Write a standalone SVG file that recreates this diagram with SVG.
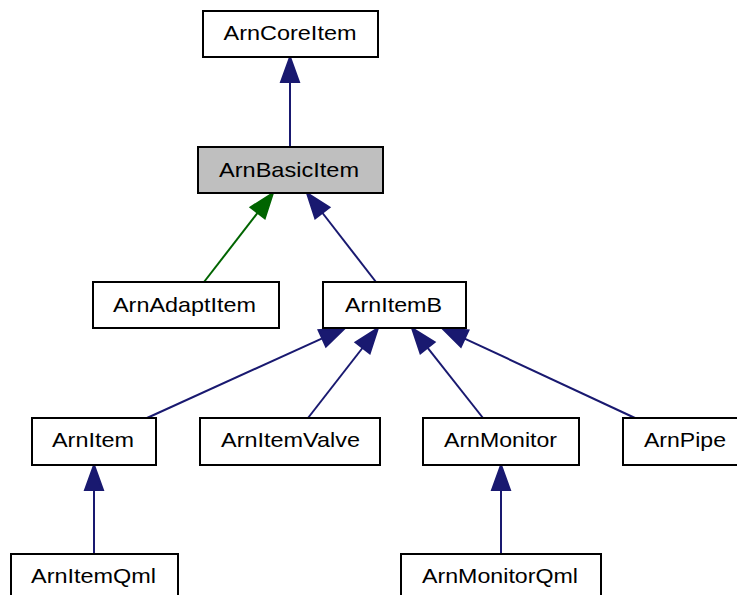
<svg xmlns="http://www.w3.org/2000/svg" width="737" height="595" viewBox="0 0 737 595">
<style>
.box{fill:#ffffff;stroke:#000000;stroke-width:2}
.hl{fill:#bfbfbf}
.lbl{font-family:"Liberation Sans",Arial,Helvetica,sans-serif;font-size:21px;fill:#000000;text-anchor:middle}
.e{stroke:#191970;stroke-width:2;fill:none}
.h{fill:#191970;stroke:#191970;stroke-width:2}
.eg{stroke:#006400;stroke-width:2;fill:none}
.hg{fill:#006400;stroke:#006400;stroke-width:2}
</style>
<rect width="737" height="595" fill="#ffffff"/>
<g id="connectors">
<line class="e" x1="290" y1="147" x2="290" y2="82"/>
<polygon class="h" points="290,57 281,82 299,82"/>
<line class="eg" x1="204" y1="282" x2="257.68" y2="212.76"/>
<polygon class="hg" points="273,193 264.79,218.28 250.57,207.24"/>
<line class="e" x1="376" y1="282" x2="322.32" y2="212.76"/>
<polygon class="h" points="307,193 329.43,207.24 315.21,218.28"/>
<line class="e" x1="147" y1="418" x2="322.24" y2="338.34"/>
<polygon class="h" points="345,328 325.96,346.53 318.52,330.15"/>
<line class="e" x1="308" y1="418" x2="362.65" y2="347.74"/>
<polygon class="h" points="378,328 369.75,353.27 355.55,342.21"/>
<line class="e" x1="483" y1="418" x2="427.49" y2="347.63"/>
<polygon class="h" points="412,328 434.56,342.05 420.42,353.21"/>
<line class="e" x1="635" y1="418" x2="464.66" y2="338.57"/>
<polygon class="h" points="442,328 468.46,330.41 460.86,346.73"/>
<line class="e" x1="94" y1="554" x2="94" y2="490"/>
<polygon class="h" points="94,465 85,490 103,490"/>
<line class="e" x1="501" y1="554" x2="501" y2="490"/>
<polygon class="h" points="501,465 492,490 510,490"/>
</g>
<g id="ArnCoreItem"><rect class="box" x="203" y="11" width="175" height="46"/><text class="lbl" x="290" y="40" textLength="133" lengthAdjust="spacingAndGlyphs">ArnCoreItem</text></g>
<g id="ArnBasicItem"><rect class="box hl" x="198" y="147" width="185" height="46"/><text class="lbl" x="289" y="176.5" textLength="140" lengthAdjust="spacingAndGlyphs">ArnBasicItem</text></g>
<g id="ArnAdaptItem"><rect class="box" x="93" y="282" width="186" height="46"/><text class="lbl" x="184.5" y="311.5" textLength="143" lengthAdjust="spacingAndGlyphs">ArnAdaptItem</text></g>
<g id="ArnItemB"><rect class="box" x="323" y="282" width="143" height="46"/><text class="lbl" x="393.5" y="311.5" textLength="97" lengthAdjust="spacingAndGlyphs">ArnItemB</text></g>
<g id="ArnItem"><rect class="box" x="32" y="418" width="124" height="47"/><text class="lbl" x="93" y="447" textLength="82" lengthAdjust="spacingAndGlyphs">ArnItem</text></g>
<g id="ArnItemValve"><rect class="box" x="200" y="418" width="180" height="47"/><text class="lbl" x="290.5" y="447" textLength="139" lengthAdjust="spacingAndGlyphs">ArnItemValve</text></g>
<g id="ArnMonitor"><rect class="box" x="423" y="418" width="156" height="47"/><text class="lbl" x="500.5" y="447" textLength="113" lengthAdjust="spacingAndGlyphs">ArnMonitor</text></g>
<g id="ArnPipe"><rect class="box" x="623" y="418" width="124" height="47"/><text class="lbl" x="685" y="447" textLength="82" lengthAdjust="spacingAndGlyphs">ArnPipe</text></g>
<g id="ArnItemQml"><rect class="box" x="11" y="554" width="167" height="47"/><text class="lbl" x="93.5" y="582.5" textLength="125" lengthAdjust="spacingAndGlyphs">ArnItemQml</text></g>
<g id="ArnMonitorQml"><rect class="box" x="401" y="554" width="200" height="47"/><text class="lbl" x="500" y="582.5" textLength="156" lengthAdjust="spacingAndGlyphs">ArnMonitorQml</text></g>
</svg>
